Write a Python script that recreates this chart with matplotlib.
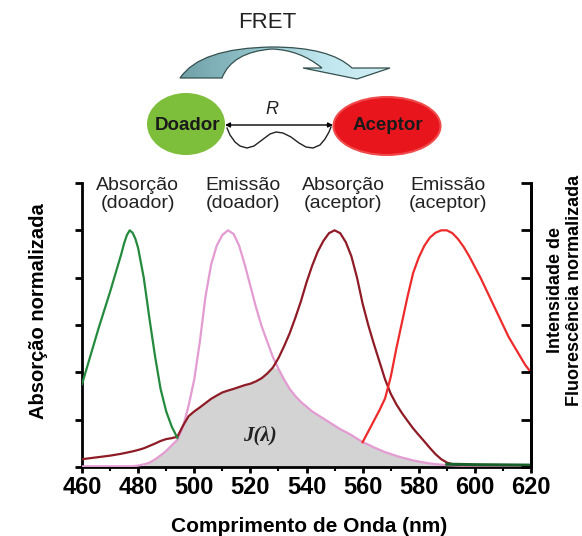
import numpy as np
import matplotlib
matplotlib.use('Agg')
import matplotlib.pyplot as plt
from matplotlib.patches import Ellipse, PathPatch
from matplotlib.path import Path
from matplotlib.colors import LinearSegmentedColormap
from matplotlib.ticker import MultipleLocator

plt.rcParams['font.family'] = ['Liberation Sans', 'DejaVu Sans']

# grade comum (emissao doador / absorcao aceptor)
wl = np.arange(460, 621, 2)
em_doador = [0.003, 0.003, 0.003, 0.003, 0.003, 0.003, 0.003, 0.003, 0.003, 0.003,
             0.006, 0.011, 0.018, 0.032, 0.049, 0.068, 0.092, 0.115, 0.17, 0.26,
             0.37, 0.53, 0.72, 0.855, 0.935, 0.98, 1.0, 0.985, 0.935, 0.855,
             0.765, 0.675, 0.595, 0.53, 0.465, 0.415, 0.37, 0.33, 0.30, 0.275,
             0.255, 0.235, 0.22, 0.205, 0.19, 0.175, 0.16, 0.148, 0.135, 0.12,
             0.105, 0.095, 0.083, 0.073, 0.063, 0.055, 0.047, 0.04, 0.034, 0.028,
             0.023, 0.019, 0.015, 0.012, 0.01, 0.008, 0.007, 0.006, 0.005, 0.005,
             0.005, 0.005, 0.005, 0.005, 0.005, 0.005, 0.005, 0.005, 0.005, 0.005, 0.005]
abs_aceptor = [0.033, 0.036, 0.039, 0.042, 0.045, 0.048, 0.052, 0.056, 0.061, 0.066,
               0.072, 0.079, 0.089, 0.099, 0.11, 0.118, 0.122, 0.128, 0.175, 0.215,
               0.235, 0.252, 0.27, 0.288, 0.302, 0.315, 0.323, 0.33, 0.338, 0.346,
               0.352, 0.362, 0.375, 0.395, 0.42, 0.46, 0.51, 0.565, 0.63, 0.70,
               0.78, 0.85, 0.91, 0.955, 0.988, 1.0, 0.988, 0.95, 0.89, 0.80,
               0.69, 0.60, 0.52, 0.445, 0.37, 0.31, 0.265, 0.228, 0.195, 0.163,
               0.135, 0.108, 0.08, 0.054, 0.033, 0.019, 0.012, 0.009, 0.008, 0.008,
               0.008, 0.008, 0.008, 0.008, 0.008, 0.008, 0.008, 0.008, 0.008, 0.008, 0.008]

wl_abs_doador = [460, 462, 464, 466, 468, 470, 472, 474, 475, 476, 477, 478, 479, 480,
                 482, 484, 486, 488, 490, 492, 494]
abs_doador = [0.35, 0.43, 0.51, 0.59, 0.665, 0.74, 0.82, 0.9, 0.945, 0.98, 1.0, 0.99, 0.965, 0.925,
              0.8, 0.63, 0.47, 0.33, 0.235, 0.17, 0.123]
wl_abs_doador_cauda = [590, 600, 610, 620]
abs_doador_cauda = [0.012, 0.01, 0.009, 0.008]

wl_em_aceptor = np.arange(560, 621, 2)
em_aceptor = [0.105, 0.15, 0.195, 0.24, 0.29, 0.38, 0.5, 0.61, 0.72, 0.82,
              0.885, 0.935, 0.97, 0.99, 1.0, 1.0, 0.988, 0.963, 0.93, 0.89,
              0.845, 0.80, 0.75, 0.70, 0.65, 0.60, 0.55, 0.51, 0.47, 0.43, 0.40]

rotulos = ['Absorção\n(doador)', 'Emissão\n(doador)', 'Absorção\n(aceptor)', 'Emissão\n(aceptor)']
rot_x = [479.8, 517.4, 553.0, 590.4]

c_verde = '#238a3e'
c_rosa = '#e39bd2'
c_vinho = '#8e1b25'
c_verm = '#ee2b2b'

fig = plt.figure(figsize=(5.82, 5.36), dpi=100)
ax = fig.add_axes([0.1409, 0.1287, 0.7715, 0.5299])

wl_a = np.array(wl)
sobre = np.minimum(em_doador, abs_aceptor)
m = (wl_a >= 482) & (wl_a <= 594)
ax.fill_between(wl_a[m], 0, sobre[m], color='#d3d3d3', lw=0, zorder=1)

ax.plot(wl, em_doador, color=c_rosa, lw=1.6, zorder=3)
ax.plot(wl, abs_aceptor, color=c_vinho, lw=1.6, zorder=4)
ax.plot(wl_abs_doador, abs_doador, color=c_verde, lw=1.6, zorder=4)
ax.plot(wl_abs_doador_cauda, abs_doador_cauda, color='#17602a', lw=2.2, zorder=4)
ax.plot(wl_em_aceptor, em_aceptor, color=c_verm, lw=1.6, zorder=4)

ax.text(523.4, 0.135, 'J(λ)', family=['Liberation Serif', 'DejaVu Serif'], style='italic',
        weight='bold', fontsize=15, ha='center', va='center', color='#222222', zorder=5)

for t, x in zip(rotulos, rot_x):
    ax.text(x, 1.15, t, ha='center', va='center', fontsize=14, color='#222222',
            linespacing=1.05, clip_on=False)

ax.set_xlim(460, 620)
ax.set_ylim(0, 1.2)
ax.xaxis.set_major_locator(MultipleLocator(20))
ax.xaxis.set_minor_locator(MultipleLocator(10))
ax.yaxis.set_major_locator(MultipleLocator(0.2))
ax.spines['top'].set_visible(False)
for s in ['left', 'bottom', 'right']:
    ax.spines[s].set_linewidth(2)
ax.tick_params(axis='x', which='major', direction='out', length=4, width=2,
               labelsize=17, pad=2.5)
ax.tick_params(axis='x', which='minor', direction='out', length=3, width=1.5)
ax.tick_params(axis='y', direction='out', length=5, width=2, labelleft=False)
for lb in ax.get_xticklabels():
    lb.set_fontweight('bold')

ax2 = ax.twinx()
ax2.set_ylim(0, 1.2)
ax2.yaxis.set_major_locator(MultipleLocator(0.2))
ax2.tick_params(axis='y', direction='in', length=7, width=2, labelright=False)
for s in ['top', 'left', 'bottom']:
    ax2.spines[s].set_visible(False)
ax2.spines['right'].set_linewidth(2)

fig.text(309 / 582, 1 - 526 / 536, 'Comprimento de Onda (nm)', fontsize=15,
         fontweight='bold', ha='center', va='center')
fig.text(39 / 582, 1 - 311 / 536, 'Absorção normalizada', rotation=90, fontsize=14.5,
         fontweight='bold', ha='center', va='center')
fig.text(565 / 582, 1 - 290 / 536, 'Intensidade de\nFluorescência normalizada', rotation=90,
         fontsize=13, fontweight='bold', ha='center', va='center', multialignment='center',
         linespacing=1.1)

# esquema FRET no topo (coordenadas em pixels)
top = fig.add_axes([0, 0, 1, 1])
top.set_xlim(0, 582)
top.set_ylim(536, 0)
top.axis('off')
top.patch.set_visible(False)

top.text(267, 23, 'FRET', fontsize=16, ha='center', va='center', color='#222222')

# seta curva (fita)
v = [(180, 78), (200, 48), (272, 47), (330, 47), (352, 68), (390, 68), (357, 79), (303, 68),
     (322, 68), (300, 50), (272, 49), (232, 52), (222, 78), (180, 78)]
c = [Path.MOVETO, Path.CURVE3, Path.CURVE3, Path.CURVE3, Path.CURVE3, Path.LINETO, Path.LINETO,
     Path.LINETO, Path.LINETO, Path.CURVE3, Path.CURVE3, Path.CURVE3, Path.CURVE3, Path.CLOSEPOLY]
fita = PathPatch(Path(v, c), facecolor='none', edgecolor='#35504f', lw=0.9, zorder=3)
top.add_patch(fita)
grad = np.linspace(0, 1, 200).reshape(1, -1)
cmap = LinearSegmentedColormap.from_list('azul', ['#6e9ea5', '#8fc0c8', '#bfe6ee', '#d4f1f6'])
im = top.imshow(grad, extent=[175, 395, 85, 40], cmap=cmap, aspect='auto', zorder=2)
im.set_clip_path(fita)
top.set_xlim(0, 582)
top.set_ylim(536, 0)

top.add_patch(Ellipse((186, 124), 78, 62, facecolor='#7dbf3a', edgecolor='none'))
top.add_patch(Ellipse((387, 126), 107, 58, facecolor='#e8151d', edgecolor='#f04a4a', lw=1.5))
top.text(187, 125, 'Doador', fontsize=13.5, fontweight='bold', ha='center', va='center', color='#1a1a1a')
top.text(388, 125, 'Aceptor', fontsize=13.5, fontweight='bold', ha='center', va='center', color='#1a1a1a')
top.annotate('', xy=(333, 125), xytext=(225, 125),
             arrowprops=dict(arrowstyle='<|-|>', color='black', lw=1.0, mutation_scale=7,
                             shrinkA=0, shrinkB=0))
top.text(272, 109, 'R', fontsize=13, style='italic', ha='center', va='center', color='#222222')
onda_x = [227, 230, 235, 240, 247, 254, 262, 270, 276, 283, 291, 299, 306, 313, 320, 325, 329, 331]
onda_y = [128, 135, 142, 146, 148, 146, 140, 134, 132, 133, 137, 143, 147, 148, 145, 139, 132, 127]
top.plot(onda_x, onda_y, color='#222222', lw=1.0)

fig.savefig('out.png', dpi=100)
